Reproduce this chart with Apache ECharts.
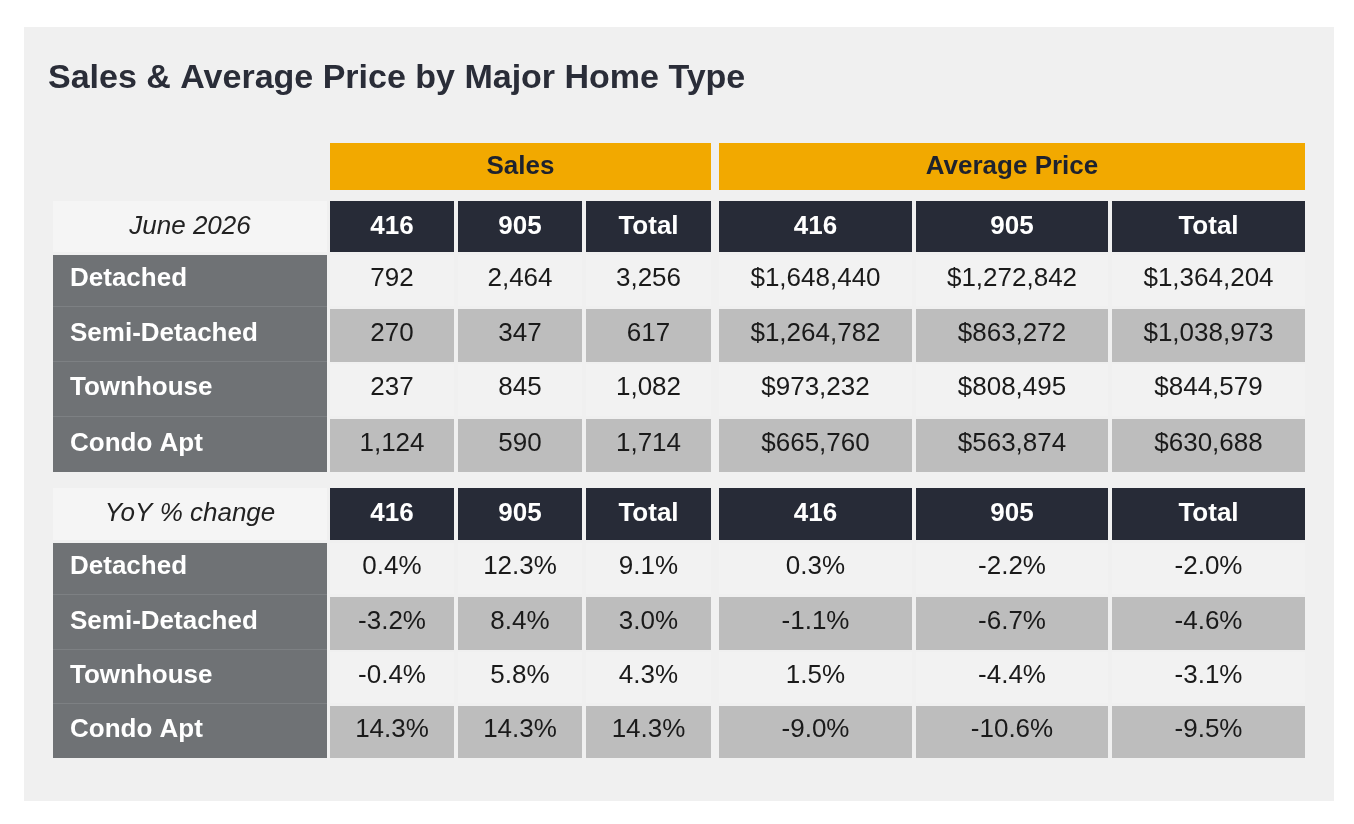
<!DOCTYPE html>
<html>
<head>
<meta charset="utf-8">
<script src="https://cdn.jsdelivr.net/npm/echarts@6/dist/echarts.min.js"></script>
<style>html,body{margin:0;padding:0;background:#fff;}#chart{width:1354px;height:824px;}</style>
</head>
<body>
<div id="chart"></div>
<script>
// data
var title = 'Sales & Average Price by Major Home Type';
var groupHeaders = ['Sales', 'Average Price'];
var colHeaders = ['416', '905', 'Total', '416', '905', 'Total'];
var homeTypes = ['Detached', 'Semi-Detached', 'Townhouse', 'Condo Apt'];
var periodLabel = 'June 2026';
var changeLabel = 'YoY % change';
var sales416 = [792, 270, 237, 1124];
var sales905 = [2464, 347, 845, 590];
var salesTotal = [3256, 617, 1082, 1714];
var price416 = [1648440, 1264782, 973232, 665760];
var price905 = [1272842, 863272, 808495, 563874];
var priceTotal = [1364204, 1038973, 844579, 630688];
var yoySales416 = [0.4, -3.2, -0.4, 14.3];
var yoySales905 = [12.3, 8.4, 5.8, 14.3];
var yoySalesTotal = [9.1, 3.0, 4.3, 14.3];
var yoyPrice416 = [0.3, -1.1, 1.5, -9.0];
var yoyPrice905 = [-2.2, -6.7, -4.4, -10.6];
var yoyPriceTotal = [-2.0, -4.6, -3.1, -9.5];

// layout (pixel edges)
var colEdges = [[53,327],[330,454],[458,582],[586,711],[719,912],[916,1108],[1112,1305]];
var groupEdges = [[330,711],[719,1305]];
var tableRows = [
  [[201,252],[255,306],[309,362],[364,416],[419,472]],
  [[488,540],[543,594],[597,650],[652,703],[706,758]]
];

function fmtNum(v){ return v.toLocaleString('en-US'); }
function fmtPrice(v){ return '$' + v.toLocaleString('en-US'); }
function fmtPct(v){ return v.toFixed(1) + '%'; }

var cells = [];
// kinds: 0 group header, 1 col header, 2 corner label, 3 row label, 4 data
groupHeaders.forEach(function(g, i){ cells.push({value:[i, -1, 0, 0], text:g}); });
[[sales416,sales905,salesTotal,price416,price905,priceTotal,periodLabel,[fmtNum,fmtNum,fmtNum,fmtPrice,fmtPrice,fmtPrice]],
 [yoySales416,yoySales905,yoySalesTotal,yoyPrice416,yoyPrice905,yoyPriceTotal,changeLabel,[fmtPct,fmtPct,fmtPct,fmtPct,fmtPct,fmtPct]]]
.forEach(function(tb, t){
  cells.push({value:[0, 0, 2, t], text:tb[6]});
  colHeaders.forEach(function(h, c){ cells.push({value:[c+1, 0, 1, t], text:h}); });
  homeTypes.forEach(function(ht, r){
    cells.push({value:[0, r+1, 3, t], text:ht});
    for (var c = 0; c < 6; c++) {
      cells.push({value:[c+1, r+1, 4, t], text:tb[7][c](tb[c][r])});
    }
  });
});

var chart = echarts.init(document.getElementById('chart'));
chart.setOption({
  backgroundColor:'#ffffff',
  animation:false,
  grid:{left:0, right:0, top:0, bottom:0},
  xAxis:{type:'value', min:0, max:1354, show:false},
  yAxis:{type:'value', min:0, max:824, inverse:true, show:false},
  graphic:[
    {type:'rect', left:24, top:27, z:-10, shape:{width:1310, height:774}, style:{fill:'#f0f0f0'}},
    {type:'text', left:48, top:62, style:{text:title, font:'bold 34px "Liberation Sans", Arial, sans-serif', fill:'#2a2d38'}}
  ],
  series:[{
    type:'custom',
    data:cells,
    renderItem:function(params, api){
      var col = api.value(0), row = api.value(1), kind = api.value(2), t = api.value(3);
      var x0, x1, y0, y1;
      if (kind === 0) { x0 = groupEdges[col][0]; x1 = groupEdges[col][1]; y0 = 143; y1 = 190; }
      else { x0 = colEdges[col][0]; x1 = colEdges[col][1]; y0 = tableRows[t][row][0]; y1 = tableRows[t][row][1]; }
      var p0 = api.coord([x0, y0]), p1 = api.coord([x1, y1]);
      var fill, color = '#1a1a1a', font = '26px "Liberation Sans", Arial, sans-serif', align = 'center', tx = (p0[0]+p1[0])/2;
      if (kind === 0) { fill = '#f2a900'; color = '#1e222e'; font = 'bold 26px "Liberation Sans", Arial, sans-serif'; }
      else if (kind === 1) { fill = '#272b37'; color = '#ffffff'; font = 'bold 26px "Liberation Sans", Arial, sans-serif'; }
      else if (kind === 2) { fill = '#f5f5f5'; color = '#222222'; font = 'italic 26px "Liberation Sans", Arial, sans-serif'; }
      else if (kind === 3) { fill = '#6f7275'; color = '#ffffff'; font = 'bold 26px "Liberation Sans", Arial, sans-serif'; align = 'left'; tx = p0[0] + 17; }
      else { fill = row % 2 === 1 ? '#f2f2f2' : '#bdbdbd'; }
      var dataText = cells[params.dataIndex].text;
      var yMid = (p0[1]+p1[1])/2 + (kind >= 2 && row > 0 ? -2 : 0);
      if (kind === 3) {
        var yTop = p0[1] - (row > 1 ? 3 : 0);
        return {type:'group', children:[
          {type:'rect', shape:{x:p0[0], y:yTop, width:p1[0]-p0[0], height:p1[1]-yTop}, style:{fill:fill}},
          {type:'rect', shape:{x:p0[0], y:yTop, width:p1[0]-p0[0], height:1}, style:{fill: row > 1 ? '#7d8083' : fill}},
          {type:'text', style:{x:tx, y:yMid, text:dataText, font:font, fill:color, align:align, verticalAlign:'middle'}}
        ]};
      }
      return {type:'group', children:[
        {type:'rect', shape:{x:p0[0], y:p0[1], width:p1[0]-p0[0], height:p1[1]-p0[1]}, style:{fill:fill}},
        {type:'text', style:{x:tx, y:yMid, text:dataText, font:font, fill:color, align:align, verticalAlign:'middle'}}
      ]};
    }
  }]
});
</script>
</body>
</html>
